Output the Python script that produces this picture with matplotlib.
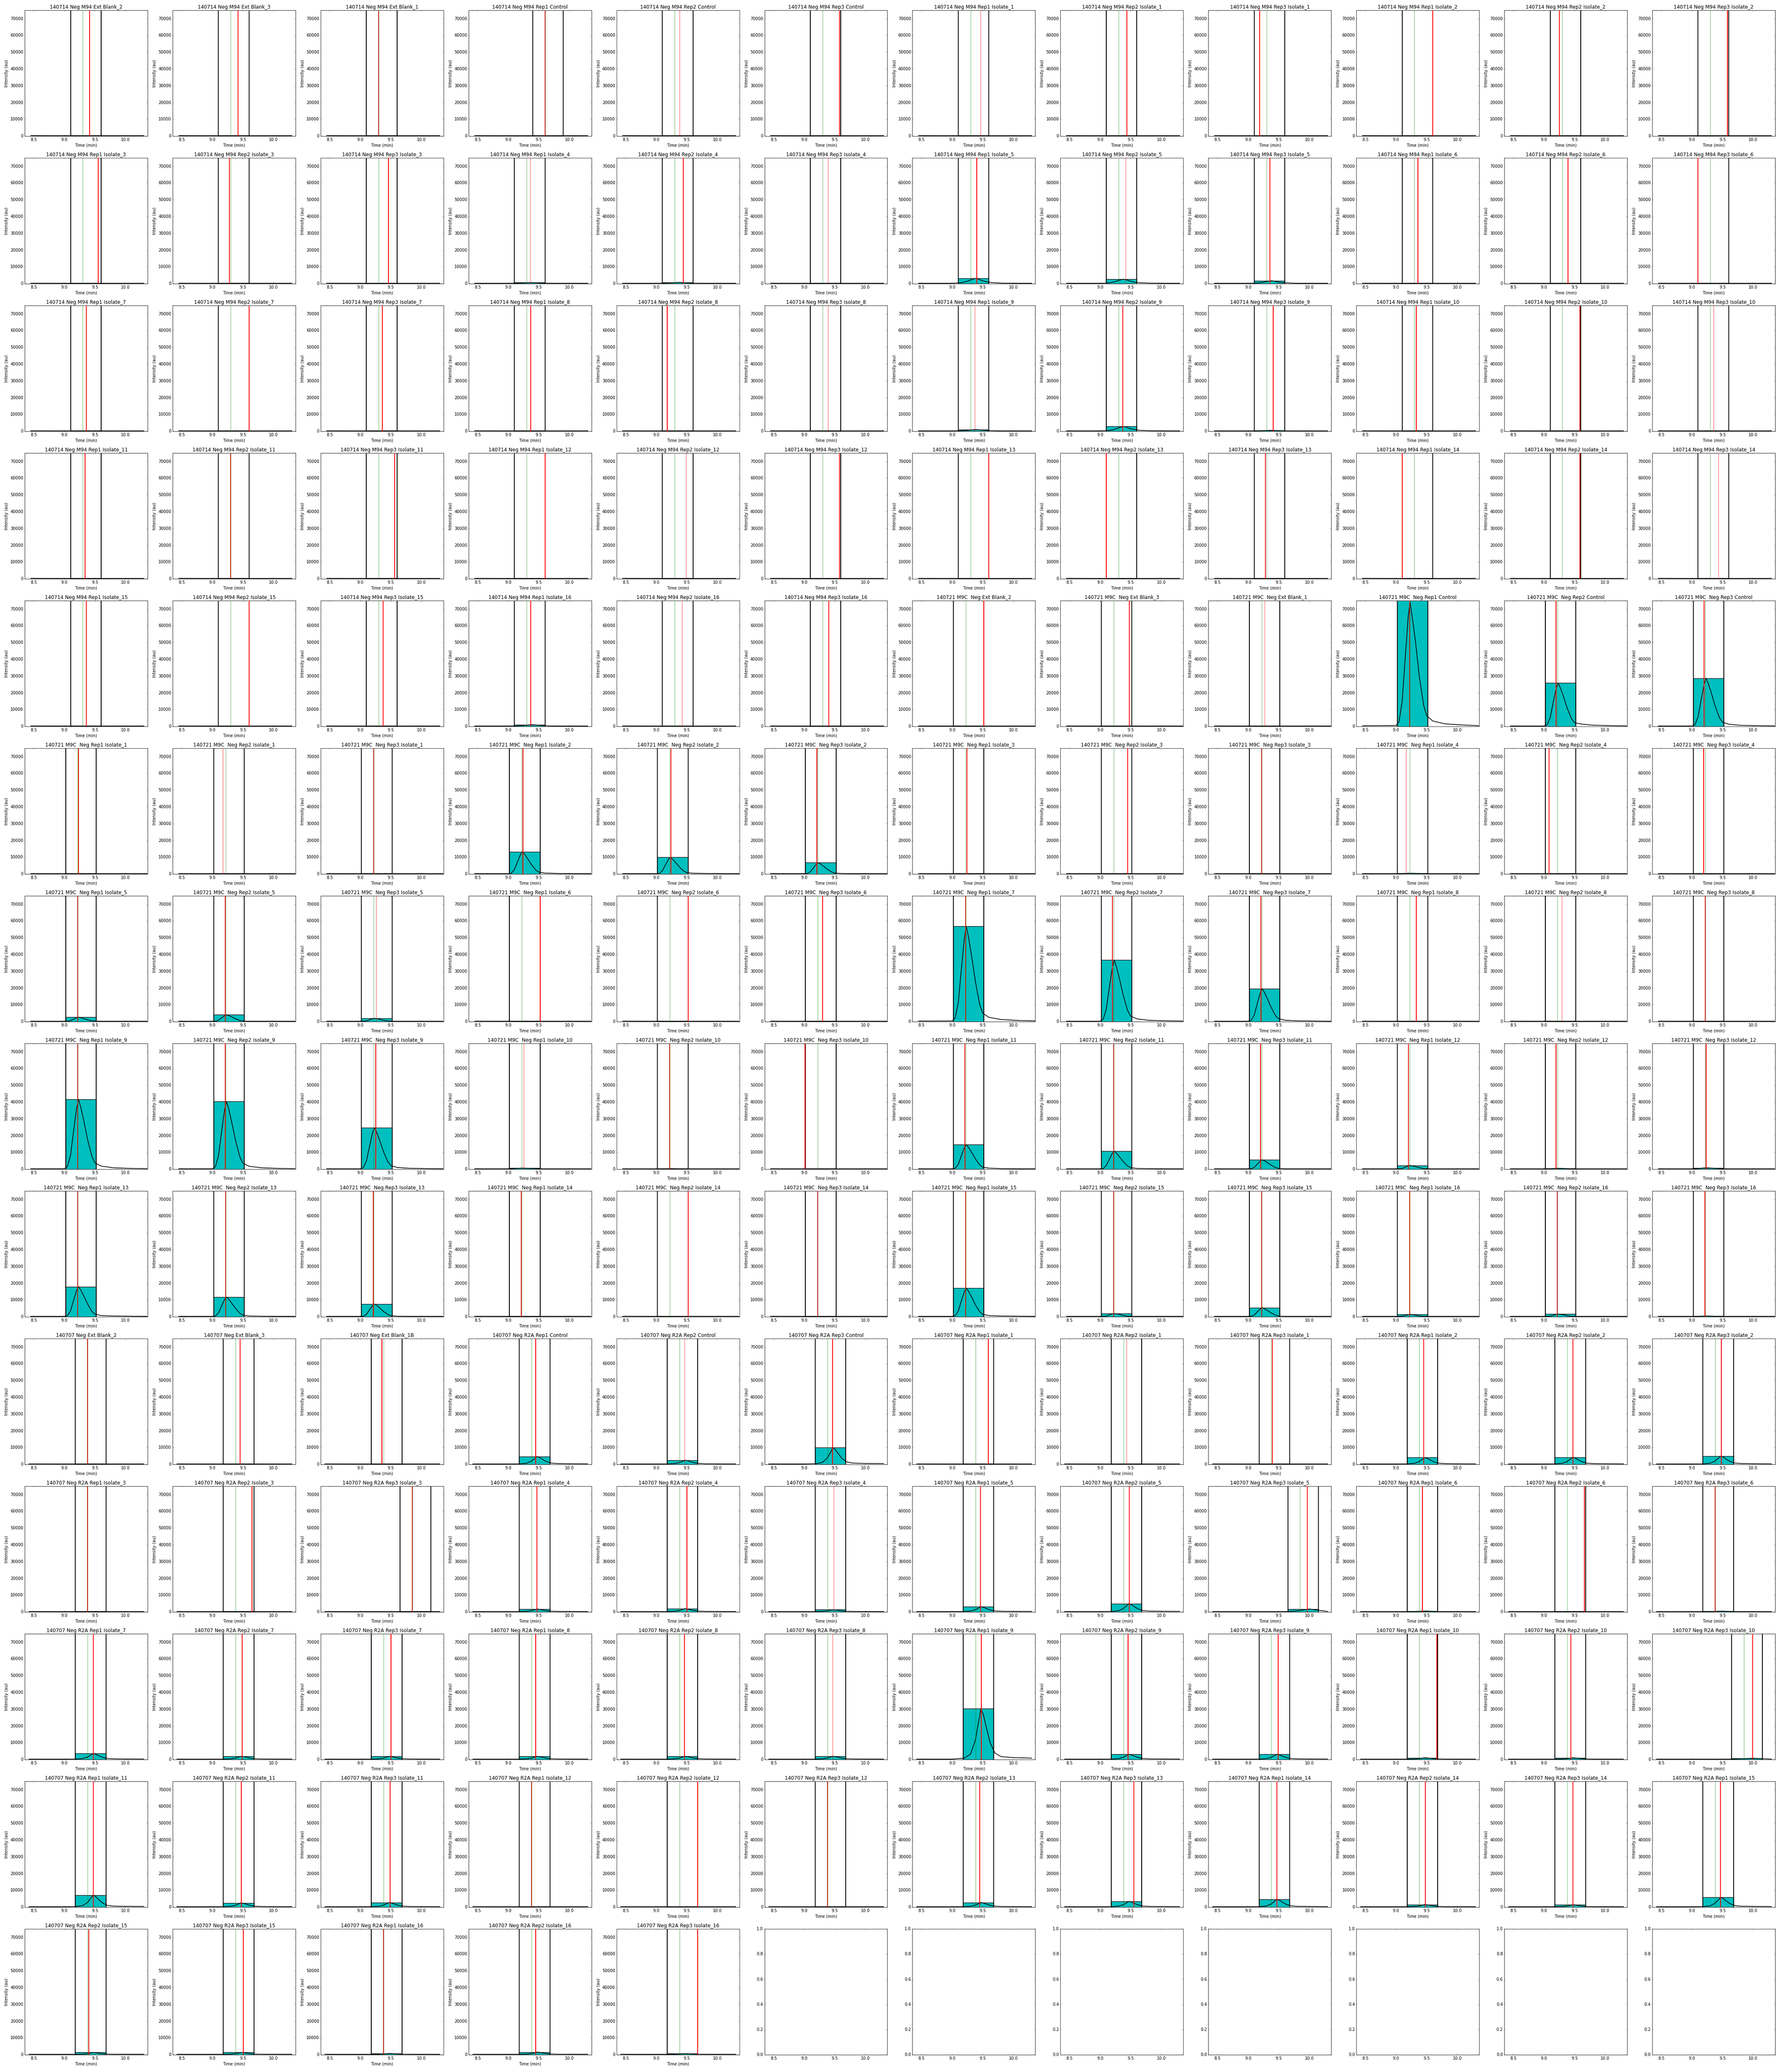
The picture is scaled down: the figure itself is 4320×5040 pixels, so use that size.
import matplotlib
matplotlib.use('Agg')
import matplotlib.pyplot as plt

plt.style.use('classic')

isolates = ['Rep%d Isolate_%d' % (r, i) for i in range(1, 17) for r in (1, 2, 3)]

# ---------------- 140714 Neg M94 ----------------
prefix_14 = '140714 Neg M94 '
samples_14 = ['Ext Blank_2', 'Ext Blank_3', 'Ext Blank_1',
              'Rep1 Control', 'Rep2 Control', 'Rep3 Control'] + isolates
T14 = [8.45, 9.0, 9.15, 9.25, 9.3, 9.35, 9.38, 9.42, 9.48, 9.55, 9.65, 9.8, 10.1, 10.3]
BASE14 = [350, 300, 300, 320, 310, 300, 330, 310, 300, 320, 300, 310, 300, 330]
lo_14 = [9.1] * 54
hi_14 = [9.6] * 54
green_14 = [9.3] * 54
lo_14[3], hi_14[3], green_14[3] = 9.4, 9.9, 9.6
red_14 = [9.41, 9.42, 9.30, 9.60, 9.38, 9.58,
          9.46, 9.44, 9.19, 9.60, 9.25, 9.58,
          9.55, 9.28, 9.46, 9.36, 9.44, 9.39,
          9.40, 9.42, 9.36, 9.36, 9.39, 9.10,
          9.36, 9.60, 9.36, 9.37, 9.18, 9.39,
          9.37, 9.37, 9.41, 9.33, 9.59, 9.35,
          9.34, 9.30, 9.56, 9.60, 9.49, 9.58,
          9.60, 9.10, 9.28, 9.10, 9.59, 9.43,
          9.36, 9.60, 9.37, 9.37, 9.42, 9.40]
thin_14 = {4, 6, 15, 17, 19, 29, 30, 35, 40, 47, 52}
h_14 = {15: 700, 16: 800, 18: 3200, 19: 2700, 20: 1800, 30: 1100, 31: 2900,
        32: 600, 51: 1100}
peaks_14 = {
    15: [300, 300, 350, 450, 550, 650, 700, 650, 500, 400, 350, 300, 300, 300],
    16: [300, 300, 350, 500, 650, 750, 800, 750, 550, 400, 350, 300, 300, 300],
    18: [300, 300, 600, 1500, 2300, 2900, 3200, 2900, 2000, 1200, 700, 400, 300, 300],
    19: [300, 300, 500, 1300, 2000, 2500, 2700, 2500, 1700, 1000, 600, 400, 300, 300],
    20: [300, 300, 400, 900, 1300, 1600, 1800, 1600, 1100, 700, 500, 300, 300, 300],
    30: [300, 300, 400, 600, 800, 1000, 1100, 1000, 800, 600, 400, 300, 300, 300],
    31: [300, 300, 500, 1300, 2100, 2600, 2900, 2600, 1800, 1100, 600, 400, 300, 300],
    32: [300, 300, 330, 420, 500, 560, 600, 560, 450, 380, 330, 300, 300, 300],
    51: [300, 300, 400, 600, 800, 1000, 1100, 1000, 800, 600, 400, 300, 300, 300],
}

# ---------------- 140721 M9C Neg ----------------
prefix_21 = '140721 M9C  Neg '
samples_21 = ['Ext Blank_2', 'Ext Blank_3', 'Ext Blank_1',
              'Rep1 Control', 'Rep2 Control', 'Rep3 Control'] + isolates
T21 = [8.45, 9.0, 9.05, 9.1, 9.15, 9.2, 9.23, 9.27, 9.32, 9.38, 9.45, 9.5, 9.6, 9.8, 10.1, 10.35]
BASE21 = [350, 300, 300, 320, 300, 310, 300, 330, 300, 300, 320, 300, 310, 300, 320, 300]
lo_21 = [9.02] * 54
hi_21 = [9.52] * 54
green_21 = [9.22] * 54
red_21 = [9.52, 9.48, 9.27, 9.22, 9.20, 9.20,
          9.23, 9.17, 9.22, 9.24, 9.24, 9.21,
          9.24, 9.45, 9.22, 9.16, 9.08, 9.19,
          9.22, 9.21, 9.26, 9.52, 9.52, 9.30,
          9.22, 9.20, 9.21, 9.33, 9.29, 9.22,
          9.22, 9.21, 9.25, 9.25, 9.22, 9.01,
          9.21, 9.22, 9.20, 9.20, 9.20, 9.23,
          9.22, 9.22, 9.21, 9.21, 9.52, 9.22,
          9.22, 9.22, 9.22, 9.22, 9.22, 9.21]
thin_21 = {2, 7, 15, 20, 28, 33}
h_21 = {3: 76000, 4: 26000, 5: 28800, 9: 13300, 10: 10000, 11: 6800, 15: 500,
        18: 2700, 19: 4100, 20: 2000, 24: 56800, 25: 36800, 26: 19700,
        30: 41700, 31: 40400, 32: 24800, 33: 700, 34: 400, 36: 14700,
        37: 10800, 38: 5700, 39: 2300, 40: 600, 41: 900, 42: 18000,
        43: 11800, 44: 7700, 48: 17200, 49: 2000, 50: 5500, 51: 1500,
        52: 1700, 53: 500}
peaks_21 = {
    3: [450, 600, 3000, 15000, 41000, 66000, 74000, 64000, 50000, 30000, 13000, 6500, 3300, 1600, 900, 500],
    4: [300, 300, 1000, 5200, 14300, 22900, 26000, 22900, 17700, 10900, 4700, 2300, 1500, 800, 500, 400],
    5: [300, 300, 1100, 5800, 15800, 25300, 28800, 25300, 19600, 12100, 5200, 2600, 1400, 700, 500, 400],
    9: [300, 300, 500, 2700, 7300, 11700, 13300, 11700, 9000, 5600, 2400, 1200, 600, 400, 300, 300],
    10: [300, 300, 400, 2000, 5500, 8800, 10000, 8800, 6800, 4200, 1800, 900, 500, 400, 300, 300],
    11: [300, 300, 350, 1400, 3700, 6000, 6800, 6000, 4600, 2900, 1200, 600, 400, 300, 300, 300],
    15: [300, 300, 300, 350, 400, 460, 500, 460, 420, 380, 330, 300, 300, 300, 300, 300],
    18: [300, 300, 300, 600, 1500, 2400, 2700, 2400, 1800, 1100, 500, 400, 300, 300, 300, 300],
    19: [300, 300, 300, 800, 2300, 3600, 4100, 3600, 2800, 1700, 700, 400, 300, 300, 300, 300],
    20: [300, 300, 300, 400, 1100, 1800, 2000, 1800, 1400, 800, 400, 300, 300, 300, 300, 300],
    24: [400, 450, 2300, 11400, 31200, 50000, 56800, 50000, 38600, 23900, 10200, 5100, 2600, 1300, 700, 500],
    25: [300, 300, 1500, 7400, 20200, 32400, 36800, 32400, 25000, 15500, 6600, 3300, 1700, 800, 500, 400],
    26: [300, 300, 800, 3900, 10800, 17300, 19700, 17300, 13400, 8300, 3500, 1800, 900, 500, 400, 300],
    30: [300, 330, 1700, 8300, 22900, 36700, 41700, 36700, 28400, 17500, 7500, 3800, 1900, 900, 500, 400],
    31: [300, 320, 1600, 8100, 22200, 35600, 40400, 35600, 27500, 17000, 7300, 3600, 1800, 900, 500, 400],
    32: [300, 300, 1000, 5000, 13600, 21800, 24800, 21800, 16900, 10400, 4500, 2200, 1100, 600, 400, 300],
    33: [300, 300, 320, 400, 520, 640, 700, 640, 560, 460, 380, 330, 300, 300, 300, 300],
    34: [300, 300, 300, 320, 350, 380, 400, 380, 350, 330, 310, 300, 300, 300, 300, 300],
    36: [300, 300, 600, 2900, 8100, 12900, 14700, 12900, 10000, 6200, 2600, 1300, 700, 400, 300, 300],
    37: [300, 300, 430, 2200, 5900, 9500, 10800, 9500, 7300, 4500, 1900, 1000, 500, 400, 300, 300],
    38: [300, 300, 300, 1100, 3100, 5000, 5700, 5000, 3900, 2400, 1000, 500, 300, 300, 300, 300],
    39: [300, 300, 300, 500, 1300, 2000, 2300, 2000, 1600, 1000, 400, 300, 300, 300, 300, 300],
    40: [300, 300, 300, 350, 450, 560, 600, 560, 480, 400, 330, 300, 300, 300, 300, 300],
    41: [300, 300, 300, 400, 600, 820, 900, 820, 680, 520, 380, 320, 300, 300, 300, 300],
    42: [300, 300, 700, 3600, 9900, 15800, 18000, 15800, 12200, 7600, 3200, 1600, 800, 500, 400, 300],
    43: [300, 300, 470, 2400, 6500, 10400, 11800, 10400, 8000, 5000, 2100, 1100, 500, 400, 300, 300],
    44: [300, 300, 310, 1500, 4200, 6800, 7700, 6800, 5200, 3200, 1400, 700, 400, 300, 300, 300],
    48: [300, 300, 700, 3400, 9500, 15100, 17200, 15100, 11700, 7200, 3100, 1500, 800, 500, 400, 300],
    49: [300, 300, 300, 400, 1100, 1800, 2000, 1800, 1400, 800, 400, 300, 300, 300, 300, 300],
    50: [300, 300, 300, 1100, 3000, 4800, 5500, 4800, 3700, 2300, 1000, 500, 300, 300, 300, 300],
    51: [300, 300, 300, 400, 800, 1300, 1500, 1300, 1000, 600, 300, 300, 300, 300, 300, 300],
    52: [300, 300, 300, 400, 900, 1500, 1700, 1500, 1200, 700, 300, 300, 300, 300, 300, 300],
    53: [300, 300, 300, 330, 400, 470, 500, 470, 420, 360, 320, 300, 300, 300, 300, 300],
}

# ---------------- 140707 Neg R2A ----------------
prefix_07 = '140707 Neg '
samples_07 = ['Ext Blank_2', 'Ext Blank_3', 'Ext Blank_1B',
              'R2A Rep1 Control', 'R2A Rep2 Control', 'R2A Rep3 Control'] + \
             ['R2A ' + s for s in isolates if s != 'Rep1 Isolate_13']
T07 = [8.42, 9.0, 9.2, 9.3, 9.38, 9.43, 9.47, 9.51, 9.56, 9.62, 9.7, 9.8, 10.0, 10.3]
BASE07 = [350, 300, 320, 300, 330, 300, 310, 320, 300, 330, 300, 320, 300, 330]
lo_07 = [9.18] * 53
hi_07 = [9.68] * 53
green_07 = [9.38] * 53
for i in (14, 20, 35):
    lo_07[i], hi_07[i], green_07[i] = 9.65, 10.15, 9.85
red_07 = [9.38, 9.45, 9.35, 9.45, 9.46, 9.46,
          9.59, 9.43, 9.40, 9.45, 9.47, 9.48,
          9.38, 9.65, 9.85, 9.47, 9.50, 9.48,
          9.46, 9.48, 9.97, 9.43, 9.66, 9.38,
          9.47, 9.49, 9.50, 9.45, 9.46, 9.46,
          9.48, 9.46, 9.49, 9.67, 9.44, 9.99,
          9.47, 9.47, 9.49, 9.38, 9.68, 9.38,
          9.45, 9.55, 9.47, 9.48, 9.47, 9.47,
          9.40, 9.51, 9.38, 9.45, 9.68]
thin_07 = {4, 7, 17, 29}
h_07 = {3: 4700, 4: 2500, 5: 10000, 9: 4100, 10: 4300, 11: 5000, 15: 1800,
        16: 2000, 17: 1400, 18: 3200, 19: 5000, 20: 1800, 21: 600, 23: 500,
        24: 3600, 25: 2000, 26: 2000, 27: 2000, 28: 2000, 29: 2000,
        30: 30400, 31: 3200, 32: 3200, 33: 1100, 34: 1100, 35: 800,
        36: 7200, 37: 2600, 38: 2800, 42: 2800, 43: 3500, 44: 4700,
        45: 1600, 46: 1500, 47: 5900, 48: 1400, 49: 1400, 50: 800,
        51: 1600, 52: 700}
peaks_07 = {
    3: [300, 300, 390, 740, 1970, 3470, 4700, 4170, 3030, 1750, 830, 520, 430, 390],
    4: [300, 300, 340, 520, 1140, 1880, 2500, 2240, 1660, 1030, 560, 410, 370, 340],
    5: [300, 300, 490, 1270, 3990, 7280, 10000, 8840, 6310, 3500, 1460, 790, 590, 490],
    9: [300, 300, 380, 680, 1740, 3040, 4100, 3640, 2660, 1550, 760, 490, 410, 380],
    10: [300, 300, 380, 700, 1820, 3180, 4300, 3820, 2780, 1620, 780, 500, 420, 380],
    11: [300, 300, 390, 770, 2090, 3680, 5000, 4440, 3210, 1850, 860, 540, 440, 390],
    15: [300, 300, 330, 450, 870, 1380, 1800, 1620, 1230, 800, 480, 380, 350, 330],
    16: [300, 300, 330, 470, 950, 1520, 2000, 1800, 1350, 860, 500, 390, 350, 330],
    17: [300, 300, 320, 410, 720, 1090, 1400, 1270, 980, 660, 430, 360, 330, 320],
    18: [300, 300, 360, 590, 1400, 2390, 3200, 2850, 2100, 1260, 650, 450, 390, 360],
    19: [300, 300, 390, 770, 2090, 3680, 5000, 4440, 3210, 1850, 860, 540, 440, 390],
    20: [300, 300, 300, 300, 300, 300, 300, 300, 300, 320, 400, 700, 1800, 350],
    21: [300, 300, 310, 330, 420, 520, 600, 560, 480, 400, 340, 320, 310, 300],
    23: [300, 300, 300, 320, 380, 450, 500, 470, 420, 370, 330, 310, 300, 300],
    24: [300, 300, 370, 630, 1550, 2680, 3600, 3200, 2350, 1390, 700, 470, 400, 370],
    25: [300, 300, 330, 470, 950, 1520, 2000, 1800, 1350, 860, 500, 390, 350, 330],
    26: [300, 300, 330, 470, 950, 1520, 2000, 1800, 1350, 860, 500, 390, 350, 330],
    27: [300, 300, 330, 470, 950, 1520, 2000, 1800, 1350, 860, 500, 390, 350, 330],
    28: [300, 300, 330, 470, 950, 1520, 2000, 1800, 1350, 860, 500, 390, 350, 330],
    29: [300, 300, 330, 470, 950, 1520, 2000, 1800, 1350, 860, 500, 390, 350, 330],
    30: [300, 300, 900, 3300, 11700, 22000, 30400, 26800, 19000, 10200, 3900, 1800, 1200, 900],
    31: [300, 300, 360, 590, 1400, 2390, 3200, 2850, 2100, 1260, 650, 450, 390, 360],
    32: [300, 300, 360, 590, 1400, 2390, 3200, 2850, 2100, 1260, 650, 450, 390, 360],
    33: [300, 300, 320, 380, 600, 880, 1100, 1000, 800, 560, 400, 340, 320, 320],
    34: [300, 300, 320, 380, 600, 880, 1100, 1000, 800, 560, 400, 340, 320, 320],
    35: [300, 300, 300, 300, 300, 300, 300, 300, 300, 300, 350, 500, 800, 320],
    36: [300, 300, 440, 990, 2920, 5270, 7200, 6370, 4580, 2580, 1130, 650, 510, 440],
    37: [300, 300, 350, 530, 1170, 1960, 2600, 2320, 1730, 1060, 580, 420, 370, 350],
    38: [300, 300, 350, 550, 1250, 2100, 2800, 2500, 1850, 1130, 600, 430, 380, 350],
    42: [300, 300, 350, 550, 1250, 2100, 2800, 2500, 1850, 1130, 600, 430, 380, 350],
    43: [300, 300, 360, 620, 1520, 2600, 3500, 3120, 2280, 1360, 680, 460, 400, 360],
    44: [300, 300, 390, 740, 1970, 3470, 4700, 4170, 3030, 1750, 830, 520, 430, 390],
    45: [300, 300, 330, 430, 790, 1240, 1600, 1440, 1110, 730, 460, 370, 340, 330],
    46: [300, 300, 320, 420, 760, 1160, 1500, 1360, 1040, 700, 440, 360, 340, 320],
    47: [300, 300, 410, 860, 2430, 4330, 5900, 5230, 3770, 2150, 970, 580, 470, 410],
    48: [300, 300, 320, 410, 720, 1090, 1400, 1270, 980, 660, 430, 360, 330, 320],
    49: [300, 300, 320, 410, 720, 1090, 1400, 1270, 980, 660, 430, 360, 330, 320],
    50: [300, 300, 310, 350, 490, 660, 800, 740, 610, 470, 360, 320, 310, 300],
    51: [300, 300, 330, 430, 790, 1240, 1600, 1440, 1110, 730, 460, 370, 340, 330],
    52: [300, 300, 310, 340, 450, 590, 700, 650, 550, 440, 350, 320, 310, 300],
}

batches = [
    (prefix_14, samples_14, T14, BASE14, lo_14, hi_14, green_14, red_14, thin_14, h_14, peaks_14),
    (prefix_21, samples_21, T21, BASE21, lo_21, hi_21, green_21, red_21, thin_21, h_21, peaks_21),
    (prefix_07, samples_07, T07, BASE07, lo_07, hi_07, green_07, red_07, thin_07, h_07, peaks_07),
]

fig, axes = plt.subplots(14, 12, figsize=(72, 84), facecolor='white')
fig.subplots_adjust(left=0.0139, right=0.9995, bottom=0.0083, top=0.995,
                    wspace=0.204, hspace=0.173)
axs = list(axes.flat)

k = 0
for prefix, samples, T, base, lo, hi, green, red, thin, hts, peaks in batches:
    for i, s in enumerate(samples):
        ax = axs[k]
        k += 1
        ax.bar(lo[i], hts.get(i, 400), width=hi[i] - lo[i], align='edge',
               color='c', edgecolor='k', linewidth=1.5, zorder=1)
        ax.plot(T, peaks.get(i, base), 'k-', lw=2, zorder=3)
        ax.axvline(lo[i], color='k', lw=2.5, zorder=2)
        ax.axvline(hi[i], color='k', lw=2.5, zorder=2)
        ax.axvline(red[i], color='r', lw=0.8 if i in thin else 2.5, zorder=4)
        ax.axvline(green[i], color='g', alpha=0.5, lw=1.5, zorder=5)
        ax.set_ylim(0, 75000)
        ax.set_title(prefix + s)
        ax.set_xlabel('Time (min)')
        ax.set_ylabel('Intensity (au)')

for ax in axs:
    ax.set_xlim(8.35, 10.36)

fig.savefig('out.png', dpi=60, facecolor='white')
